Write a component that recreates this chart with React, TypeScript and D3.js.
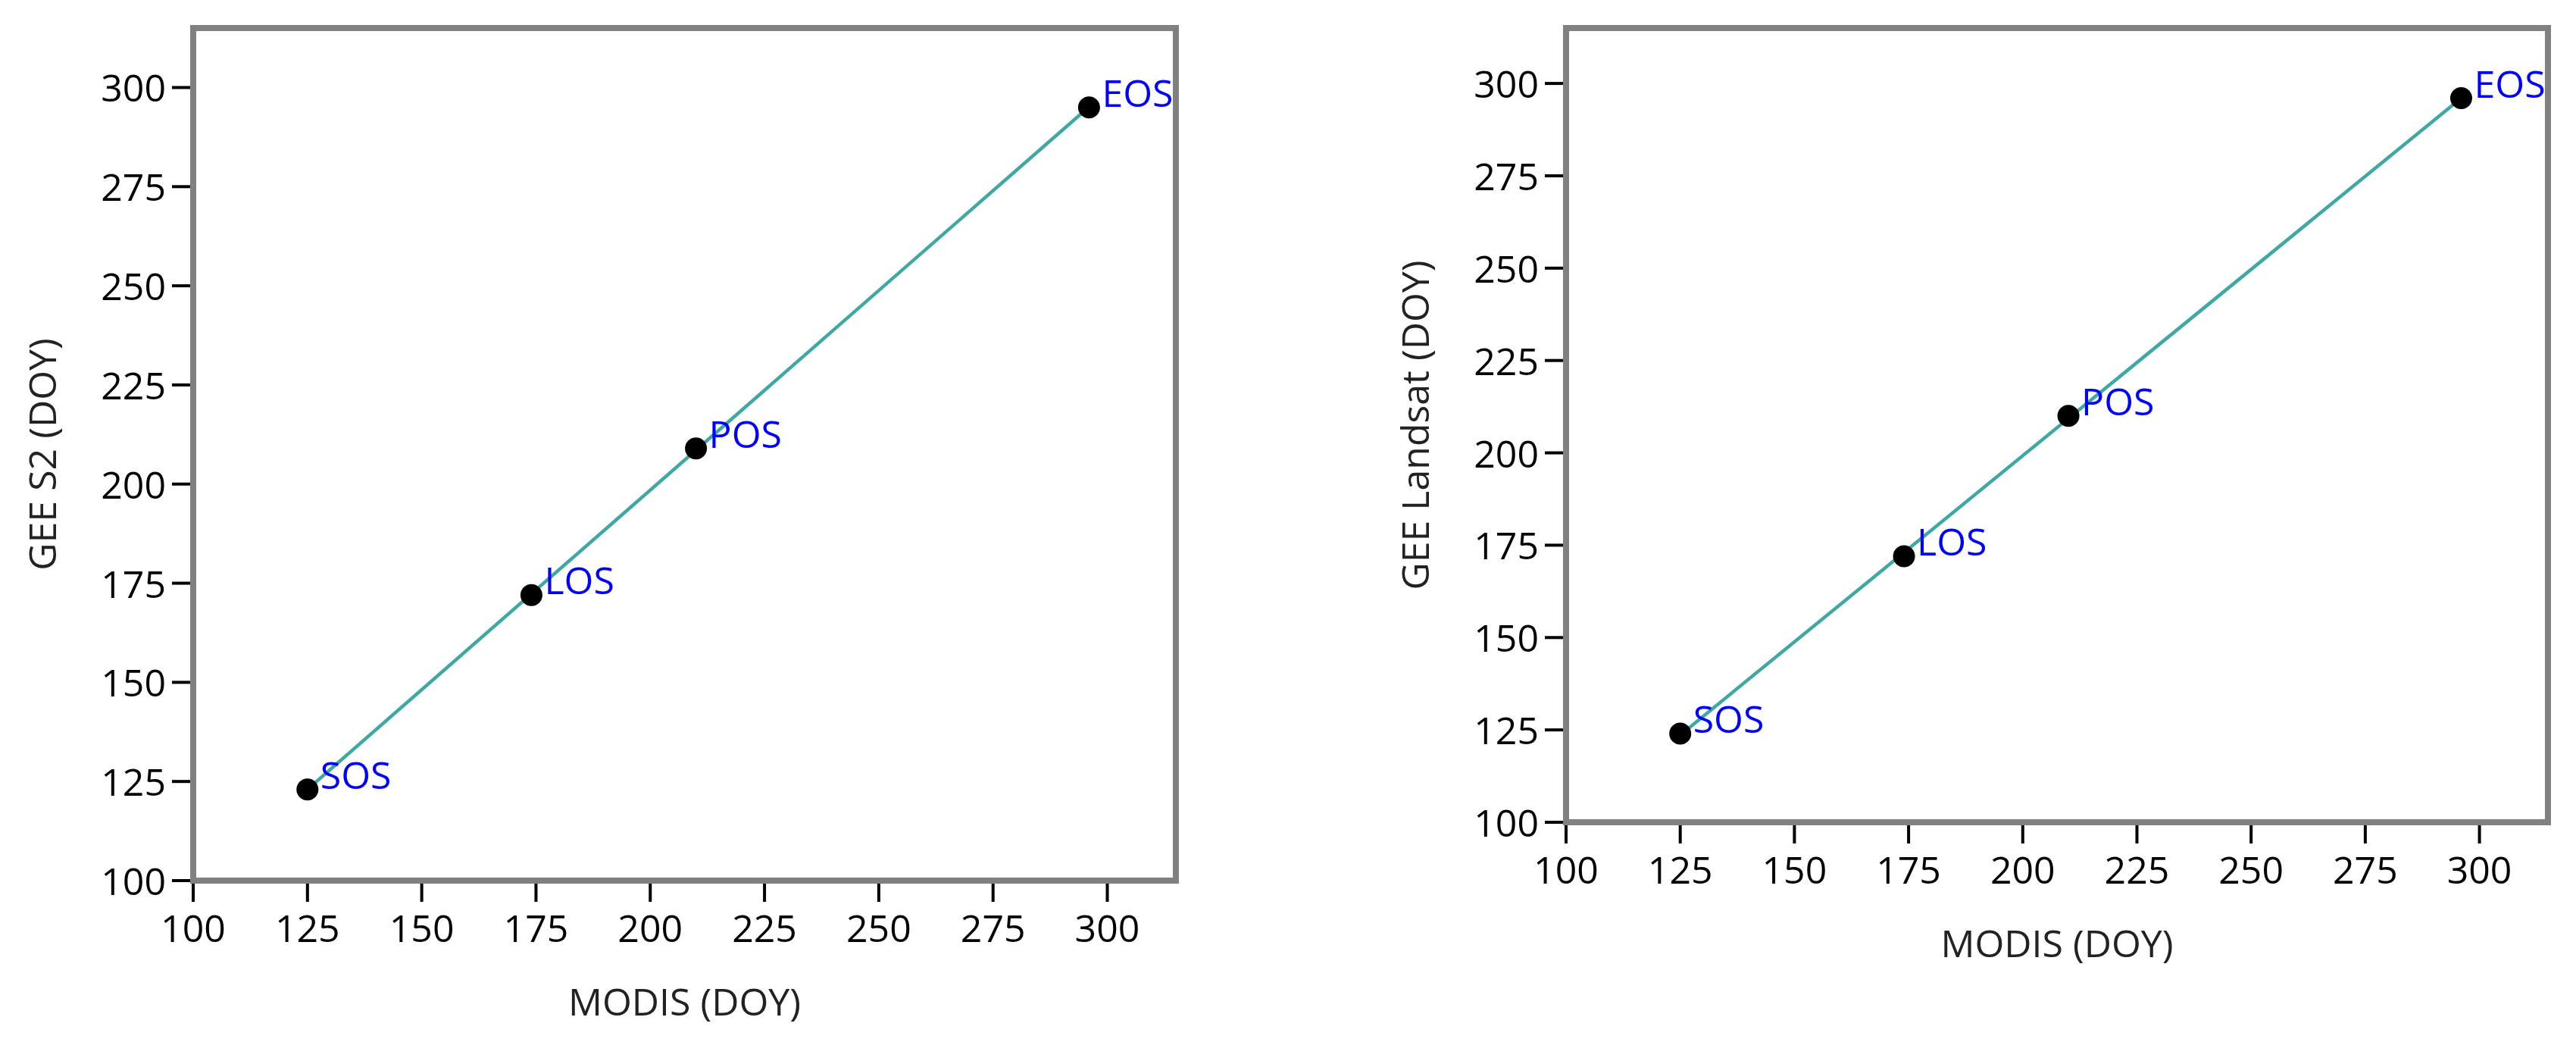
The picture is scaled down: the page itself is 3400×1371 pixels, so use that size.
import React from "react";
import * as d3 from "d3";

const stages = ["SOS", "LOS", "POS", "EOS"];
const modisS2 = [125, 174, 210, 296];
const geeS2 = [123, 172, 209, 295];
const modisLandsat = [125, 174, 210, 296];
const geeLandsat = [124, 172, 210, 296];
const tickValues = [100, 125, 150, 175, 200, 225, 250, 275, 300];
const xTitle = "MODIS (DOY)";
const yTitleS2 = "GEE S2 (DOY)";
const yTitleLandsat = "GEE Landsat (DOY)";

const FONT = "'Open Sans', 'Noto Sans', sans-serif";

function regression(xs: number[], ys: number[]) {
  const mx = d3.mean(xs) as number;
  const my = d3.mean(ys) as number;
  let num = 0, den = 0;
  xs.forEach((x, i) => { num += (x - mx) * (ys[i] - my); den += (x - mx) * (x - mx); });
  const b = num / den;
  const a = my - b * mx;
  return (x: number) => a + b * x;
}

function Panel({ x0, x1, y0, y1, xs, ys, yTitle }: any) {
  const x = d3.scaleLinear().domain([100, 315]).range([x0, x1]);
  const y = d3.scaleLinear().domain([100, 315]).range([y1, y0]);
  const f = regression(xs, ys);
  const xmin = d3.min(xs) as number;
  const xmax = d3.max(xs) as number;
  const line = d3.line<number>().x((d) => x(d)).y((d) => y(f(d)));
  const cy = (y0 + y1) / 2;
  const cx = (x0 + x1) / 2;
  return (
    <g>
      {tickValues.map((t) => (
        <g key={"yt" + t}>
          <line x1={x0 - 28} x2={x0} y1={y(t)} y2={y(t)} stroke="#000" strokeWidth={4} />
          <text x={x0 - 36} y={y(t) + 19} textAnchor="end" fontSize={50} fontFamily={FONT} fill="#000">{t}</text>
        </g>
      ))}
      {tickValues.map((t) => (
        <g key={"xt" + t}>
          <line x1={x(t)} x2={x(t)} y1={y1} y2={y1 + 28} stroke="#000" strokeWidth={4} />
          <text x={x(t)} y={y1 + 81} textAnchor="middle" fontSize={50} fontFamily={FONT} fill="#000">{t}</text>
        </g>
      ))}
      <path d={line([xmin, xmax]) || ""} stroke="#3fa8a2" strokeWidth={4.5} fill="none" />
      {xs.map((xv: number, i: number) => (
        <g key={"p" + i}>
          <circle cx={x(xv)} cy={y(ys[i])} r={14.5} fill="#000" />
          <text x={x(xv) + 17} y={y(ys[i]) - 1} fontSize={50} fontFamily={FONT} fill="#0000ff">{stages[i]}</text>
        </g>
      ))}
      <rect x={x0} y={y0} width={x1 - x0} height={y1 - y0} fill="none" stroke="#808080" strokeWidth={8} />
      <text x={cx} y={y1 + 178} textAnchor="middle" fontSize={50} fontFamily={FONT} fill="#222">{xTitle}</text>
      <text transform={`translate(${x0 - 181},${cy}) rotate(-90)`} textAnchor="middle" fontSize={50} fontFamily={FONT} fill="#222">{yTitle}</text>
    </g>
  );
}

export default function App() {
  return (
    <div style={{ position: "absolute", left: 0, top: 0 }}>
      <svg width={3400} height={1371} style={{ display: "block", background: "#fff" }}>
        <rect width={3400} height={1371} fill="#fff" />
        <Panel x0={255} x1={1552} y0={37} y1={1162} xs={modisS2} ys={geeS2} yTitle={yTitleS2} />
        <Panel x0={2067} x1={3363} y0={37} y1={1085} xs={modisLandsat} ys={geeLandsat} yTitle={yTitleLandsat} />
      </svg>
    </div>
  );
}
